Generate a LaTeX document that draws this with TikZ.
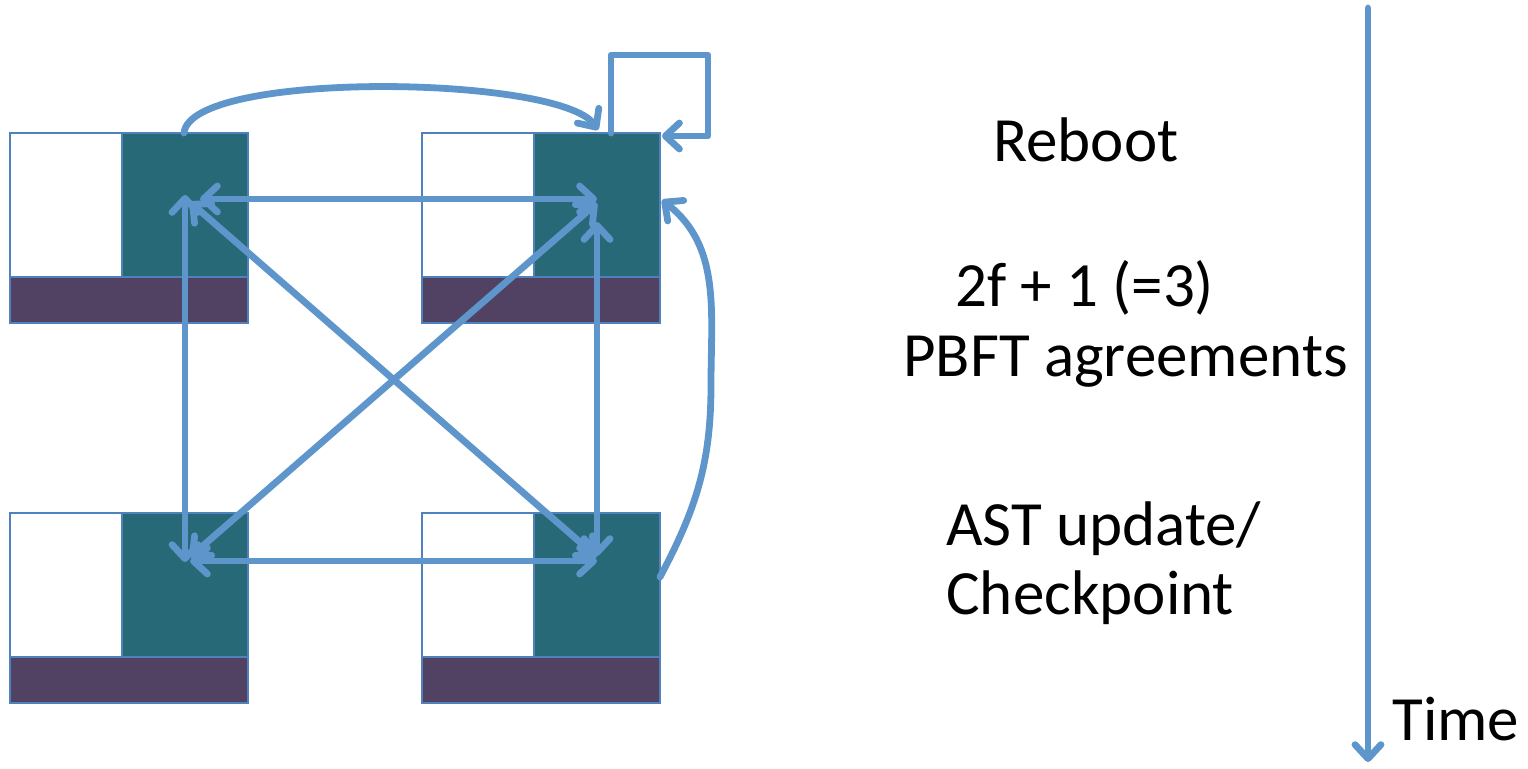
\documentclass[tikz,border=0pt]{standalone}
\usepackage{fontspec}
\setmainfont{Carlito}
\usetikzlibrary{arrows.meta}
\definecolor{linkblue}{HTML}{5E95CB}
\definecolor{edgeblue}{HTML}{4F81BD}
\definecolor{tealfill}{HTML}{286978}
\definecolor{plumfill}{HTML}{514264}
\tikzset{
  part/.style={draw=edgeblue, line width=1pt, inner sep=0pt, outer sep=0pt, anchor=north west},
  freepart/.style={part, fill=white, minimum width=56pt, minimum height=72pt},
  busypart/.style={part, fill=tealfill, minimum width=63pt, minimum height=72pt},
  basepart/.style={part, fill=plumfill, minimum width=119pt, minimum height=23pt},
  link/.style={draw=linkblue, line width=3.4pt, line cap=round, line join=round},
  barb/.tip={Straight Barb[length=7pt, width=13pt, round]},
  label/.style={anchor=base west, inner sep=0pt, font=\fontsize{31.5}{37}\selectfont}
}
\newcommand{\replica}[3]{%
  \node[freepart] (#1w) at (#2,#3) {};
  \node[busypart] (#1t) at ([xshift=56pt]#1w.north west) {};
  \node[basepart] (#1p) at (#1w.south west) {};
}
\begin{document}
\begin{tikzpicture}[x=0.5pt, y=-0.5pt]
\useasboundingbox (0,0) rectangle (1528,768);

% four replicas
\replica{tl}{10}{133}
\replica{tr}{422}{133}
\replica{bl}{10}{513}
\replica{br}{422}{513}

% message end points inside the busy parts
\coordinate (tlh) at (200,199);
\coordinate (trh) at (597,199);
\coordinate (tlv) at (185,195);
\coordinate (blv) at (185,562);
\coordinate (blh) at (190,561);
\coordinate (brh) at (597,561);
\coordinate (trv) at (597,222);
\coordinate (brv) at (597,556);
\coordinate (tld) at (190,202);
\coordinate (brd) at (597,557);
\coordinate (trd) at (597,203);
\coordinate (bld) at (190,557);

% all-to-all agreement messages
\draw[link, barb-barb] (tlh) -- (trh);
\draw[link, barb-barb] (blh) -- (brh);
\draw[link, barb-barb] (tlv) -- (blv);
\draw[link, barb-barb] (trv) -- (brv);
\draw[link, barb-barb] (tld) -- (brd);
\draw[link, barb-barb] (trd) -- (bld);

% reboot message across the top
\coordinate (rbs) at (184,133);
\coordinate (rbe) at (598,130);
\draw[link, -barb] (rbs) .. controls (190,70) and (560,75) .. (rbe);

% self loop on the top right replica
\coordinate (ls) at (611,133);
\coordinate (le) at (662,136);
\draw[link, -barb] (ls) -- (611,55) -- (708,55) -- (708,136) -- (le);

% checkpoint message back up the right side
\coordinate (cps) at (660,577);
\coordinate (cpm) at (711,385);
\coordinate (cpe) at (662,200);
\draw[link, -barb] (cps) to[out=62, in=-90] (cpm) to[out=90, in=-38] (cpe);

% time axis
\coordinate (t0) at (1368,8);
\coordinate (t1) at (1368,762);
\draw[link, -barb] (t0) -- (t1);

% phase labels
\node[label] (reboot) at (993,161) {Reboot};
\node[label] (quorum) at (955,306) {2f + 1 (=3)};
\node[label] (pbft) at (903,376) {PBFT agreements};
\node[label] (ast) at (946,545) {AST update/};
\node[label] (ckpt) at (946,614) {Checkpoint};
\node[label] (time) at (1392,740) {Time};
\end{tikzpicture}
\end{document}
